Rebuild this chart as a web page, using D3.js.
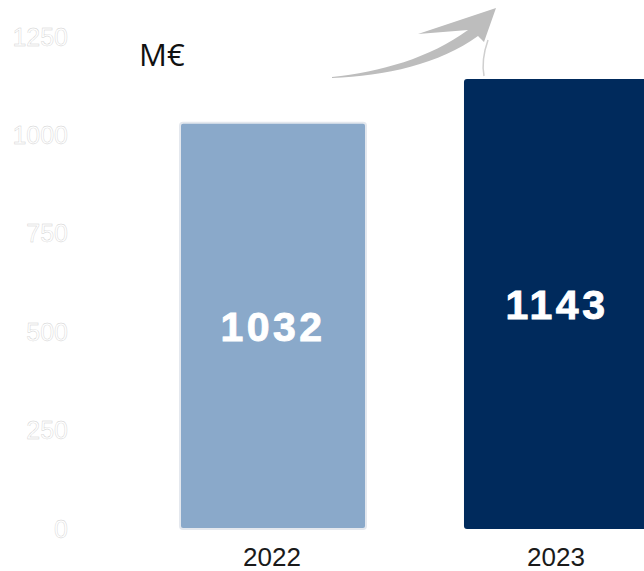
<!DOCTYPE html>
<html><head><meta charset="utf-8">
<script src="https://cdn.jsdelivr.net/npm/d3@7/dist/d3.min.js"></script>
<style>body{margin:0;background:#fff;}svg{display:block;}</style>
</head><body>
<svg id="c" width="644" height="571"></svg>
<script>
const categories = ["2022", "2023"];
const values = [1032, 1143];
const tickValues = [0, 250, 500, 750, 1000, 1250];
const barColors = ["#8AA9CA", "#002A5C"];
const unitLabel = "M€";

const svg = d3.select("#c");
const y = d3.scaleLinear().domain([0, 1250]).range([529, 37]);
const x = d3.scaleBand().domain(categories).range([134, 696]).paddingInner(0.345).paddingOuter(0.162);

// y axis
const yAxis = svg.append("g").attr("transform", "translate(68,0)")
  .call(d3.axisLeft(y).tickValues(tickValues).tickFormat(d3.format("d")).tickSize(0).tickPadding(0));
yAxis.select(".domain").remove();
yAxis.selectAll("text")
  .attr("font-family", "Liberation Sans, Arial, sans-serif")
  .attr("font-size", 25)
  .attr("fill", "#fff")
  .attr("stroke", "#cfcfcf")
  .attr("stroke-width", 0.4);

// bars
svg.selectAll("rect.bar").data(categories).join("rect")
  .attr("class", "bar")
  .attr("x", d => x(d))
  .attr("y", (d, i) => y(values[i]))
  .attr("width", x.bandwidth())
  .attr("height", (d, i) => y(0) - y(values[i]))
  .attr("rx", 3)
  .attr("fill", (d, i) => barColors[i])
  .attr("stroke", (d, i) => i === 0 ? "#e4e8ee" : "none")
  .attr("stroke-width", 2);

// value labels
svg.selectAll("text.val").data(categories).join("text")
  .attr("class", "val")
  .attr("x", d => x(d) + x.bandwidth() / 2)
  .attr("y", (d, i) => (y(values[i]) + y(0)) / 2 + 15)
  .attr("text-anchor", "middle")
  .attr("font-family", "Liberation Sans, Arial, sans-serif")
  .attr("font-weight", "bold")
  .attr("font-size", 41)
  .attr("letter-spacing", 3.5)
  .attr("fill", "#fff")
  .attr("stroke", "#fff")
  .attr("stroke-width", 0.9)
  .text((d, i) => values[i]);

// x axis
const xAxis = svg.append("g").attr("transform", "translate(-1,548)")
  .call(d3.axisBottom(x).tickSize(0).tickPadding(0));
xAxis.select(".domain").remove();
xAxis.selectAll("text")
  .attr("font-family", "Liberation Sans, Arial, sans-serif")
  .attr("font-size", 26)
  .attr("fill", "#1a1a1a");

// unit
svg.append("text").attr("x", 139).attr("y", 66)
  .attr("font-family", "Open Sans, sans-serif")
  .attr("font-size", 31)
  .attr("fill", "#111")
  .text(unitLabel);

// arrow
svg.append("path")
  .attr("d", "M332,77 C380,72 430,58 468,30 L418,34 L496,8 L484,42 L478,36 C440,64 385,76 332,78 Z")
  .attr("fill", "#bdbdbd");
svg.append("path")
  .attr("d", "M488,40 Q481,60 484,76")
  .attr("stroke", "#cfcfcf").attr("stroke-width", 1.5).attr("fill", "none");
</script>
</body></html>
